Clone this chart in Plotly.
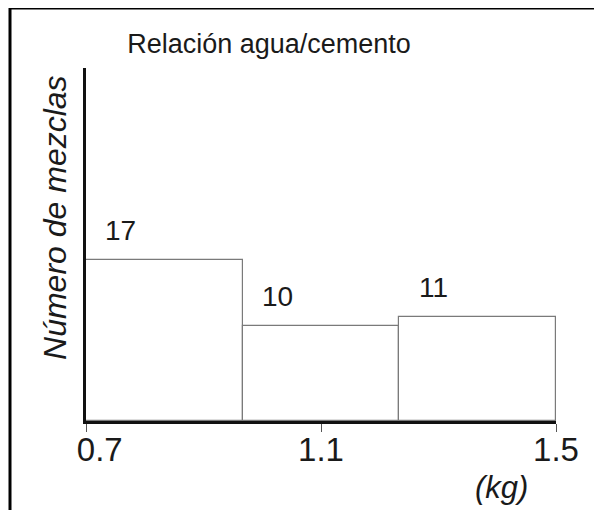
import plotly.graph_objects as go

# histogram data: 0.7 .. 1.5 kg split in three classes
bin_start = 0.7
bin_end = 1.5
counts = [17, 10, 11]

tick_values = [0.7, 1.1, 1.5]
tick_labels = ["\u00a0\u00a0\u00a00.7", "1.1", "1.5"]

title_text = "Relación agua/cemento"
y_title = "Número de mezclas"
x_unit = "(kg)"

FONT = "Liberation Sans, Arial, sans-serif"
INK = "#1a1a1a"

bin_width = (bin_end - bin_start) / len(counts)
centers = [bin_start + bin_width * (i + 0.5) for i in range(len(counts))]

fig = go.Figure(
    go.Bar(
        x=centers,
        y=counts,
        width=bin_width,
        marker=dict(color="white", line=dict(color="#7a7a7a", width=1.2)),
        hoverinfo="x+y",
    )
)

# count labels, sitting to the left above each bar
for cx, c in zip(centers, counts):
    fig.add_annotation(
        x=cx,
        y=c,
        text=str(c),
        showarrow=False,
        xanchor="center",
        yanchor="bottom",
        xshift=-44,
        yshift=12,
        font=dict(family=FONT, size=28, color=INK),
    )

fig.add_annotation(
    xref="paper",
    yref="paper",
    x=-0.066,
    y=0.578,
    xanchor="center",
    yanchor="middle",
    text=f"<i>{y_title}</i>",
    textangle=-90,
    showarrow=False,
    font=dict(family=FONT, size=32, color=INK),
)

fig.add_annotation(
    xref="paper",
    yref="paper",
    x=0.883,
    y=-0.187,
    xanchor="center",
    yanchor="middle",
    text=f"<i>{x_unit}</i>",
    showarrow=False,
    font=dict(family=FONT, size=31, color=INK),
)

# frame of the original picture (top and left edges only)
fig.add_shape(type="line", xref="paper", yref="paper",
              x0=-0.1617, x1=1.2, y0=1.17, y1=1.17,
              line=dict(color="black", width=3))
fig.add_shape(type="line", xref="paper", yref="paper",
              x0=-0.1617, x1=-0.1617, y0=1.17, y1=-0.3,
              line=dict(color="black", width=3))

fig.update_layout(
    width=602,
    height=510,
    autosize=False,
    margin=dict(l=78, r=54, t=60, b=97),
    paper_bgcolor="white",
    plot_bgcolor="white",
    showlegend=False,
    bargap=0,
    font=dict(family=FONT, color=INK),
    title=dict(
        text=title_text,
        x=0.4336,
        xanchor="center",
        y=0.931,
        yanchor="middle",
        font=dict(family=FONT, size=27, color=INK),
    ),
    xaxis=dict(
        range=[bin_start, bin_end],
        tickmode="array",
        tickvals=tick_values,
        ticktext=tick_labels,
        ticks="outside",
        ticklen=8,
        tickwidth=1,
        tickcolor="#555555",
        ticklabelstandoff=-10,
        tickfont=dict(family=FONT, size=33, color=INK),
        showline=True,
        linecolor="#111111",
        linewidth=2.5,
        showgrid=False,
        zeroline=False,
        fixedrange=True,
    ),
    yaxis=dict(
        range=[0, 37.3],
        showticklabels=False,
        ticks="",
        showline=True,
        linecolor="#111111",
        linewidth=2.5,
        showgrid=False,
        zeroline=False,
        fixedrange=True,
    ),
)

fig.write_html("out.html")
